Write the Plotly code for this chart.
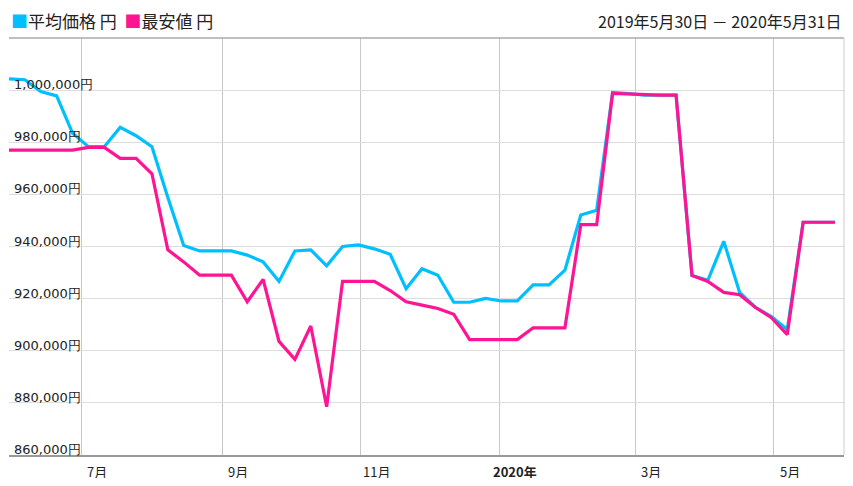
import plotly.graph_objects as go
import pandas as pd

dates = pd.date_range("2019-05-30", periods=53, freq="7D")
avg_price = [1004300, 1004000, 999500, 997800, 983500, 978300, 978300, 985700, 982500, 978300,
             958800, 940400, 938300, 938300, 938300, 936700, 934100, 926600, 938300, 938700,
             932600, 940000, 940600, 939100, 937000, 923800, 931500, 929000, 918600, 918600,
             920100, 919100, 919100, 925300, 925300, 930900, 952100, 953900, 999100, 998700,
             998100, 998100, 998100, 928900, 927000, 942000, 922400, 916600, 913100, 908200,
             949300, 949300, 949300]
min_price = [977000, 977000, 977000, 977000, 977000, 978000, 978000, 973800, 973800, 967900,
             938700, 934100, 929000, 929000, 929000, 918800, 927400, 903600, 896700, 909500,
             878500, 926600, 926600, 926600, 923100, 918800, 917500, 916200, 914000, 904300,
             904300, 904300, 904300, 908800, 908800, 908800, 948400, 948400, 998700, 998500,
             998100, 998100, 998100, 928900, 926600, 922400, 921500, 916600, 912700, 906200,
             949300, 949300, 949300]
y_ticks = [860000, 880000, 900000, 920000, 940000, 960000, 980000, 1000000]
x_tick_dates = ["2019-07-01", "2019-09-01", "2019-11-01", "2020-01-01", "2020-03-01", "2020-05-01"]
x_tick_labels = ["7月", "9月", "11月", "<b>2020年</b>", "3月", "5月"]

fig = go.Figure()
fig.add_trace(go.Scatter(x=dates, y=avg_price, mode="lines", line=dict(color="#00BFFF", width=3.2), name="平均価格 円"))
fig.add_trace(go.Scatter(x=dates, y=min_price, mode="lines", line=dict(color="#FF1493", width=3.2), name="最安値 円"))

font = "Noto Sans CJK JP"
ann = []
for v in y_ticks:
    ann.append(dict(x=0, xref="paper", y=v, yref="y", xanchor="left", yanchor="bottom", xshift=3, yshift=-4,
                    text=f"{v:,}円", showarrow=False, font=dict(size=13, color="#222", family="DejaVu Sans")))
for d, t in zip(x_tick_dates, x_tick_labels):
    ann.append(dict(x=pd.Timestamp(d) + pd.Timedelta(days=7), xref="x", y=0, yref="paper", yanchor="top", yshift=-5,
                    text=t, showarrow=False, font=dict(size=13, color="#222", family=font)))
ann.append(dict(x=0, xref="paper", y=1, yref="paper", xanchor="left", yanchor="bottom", yshift=3,
                text="<span style='color:#00BFFF'>■</span>平均価格 円  <span style='color:#FF1493'>■</span>最安値 円",
                showarrow=False, font=dict(size=17, color="#222", family=font)))
ann.append(dict(x=1, xref="paper", y=1, yref="paper", xanchor="right", yanchor="bottom", yshift=3,
                text="2019年5月30日 － 2020年5月31日", showarrow=False, font=dict(size=16, color="#222", family=font)))

fig.update_layout(
    width=837, height=470, margin=dict(l=1, r=1, t=30, b=23),
    paper_bgcolor="white", plot_bgcolor="white", showlegend=False, annotations=ann,
    xaxis=dict(range=["2019-05-30", "2020-06-01"], tickvals=x_tick_dates, showticklabels=False,
               showgrid=True, gridcolor="#c8c8c8", gridwidth=1, zeroline=False,
               showline=True, linecolor="#999", linewidth=2, mirror=False),
    yaxis=dict(range=[860000, 1020000], tickvals=y_ticks, showticklabels=False,
               showgrid=True, gridcolor="#dddddd", gridwidth=1, zeroline=False,
               showline=False),
)
fig.add_shape(type="line", xref="paper", yref="paper", x0=0, x1=1, y0=1, y1=1, line=dict(color="#aaa", width=1.5))
fig.add_shape(type="line", xref="paper", yref="paper", x0=1, x1=1, y0=0, y1=1, line=dict(color="#ccc", width=1))
fig.write_html("out.html")
